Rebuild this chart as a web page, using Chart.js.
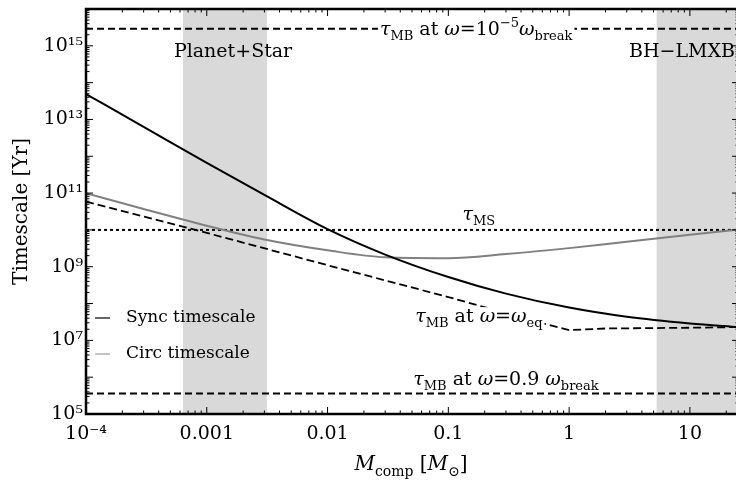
<!DOCTYPE html>
<html><head><meta charset="utf-8">
<script src="https://cdn.jsdelivr.net/npm/chart.js@4.4.1/dist/chart.umd.min.js"></script>
<style>
html,body{margin:0;padding:0;overflow:hidden;background:#fff;}
#wrap{width:740px;height:480px;}
canvas{display:block;}
</style></head><body>
<div id="wrap"><canvas id="c" width="740" height="480"></canvas></div>
<script>
// ---------- data ----------
const xLimits = [1e-4, 25.5];
const yLimits = [1e5, 1e16];

const massComp        = [1e-4, 3e-4, 1e-3, 3e-3, 0.01, 0.03, 0.1, 0.3, 1, 3, 10, 25.5];
const syncTimescale   = [4.9e13, 6.3e12, 6.6e11, 8.9e10, 1.05e10, 2.14e9, 5.25e8, 1.86e8, 7.76e7, 4.37e7, 2.88e7, 2.29e7];
const circTimescale   = [1.0e11, 3.7e10, 1.3e10, 5.5e9, 2.8e9, 1.8e9, 1.7e9, 2.2e9, 3.2e9, 4.8e9, 7.4e9, 1.02e10];

const mbEqMass        = [1e-4, 1e-3, 0.01, 0.1, 0.6, 1, 2, 10, 25.5];
const mbEqTimescale   = [5.9e10, 8.3e9, 1.1e9, 1.5e8, 2.9e7, 1.9e7, 2.1e7, 2.2e7, 2.3e7];

const mbSlowTimescale = 2.9e15;   // tau_MB at omega = 1e-5 omega_break
const msTimescale     = 1.0e10;   // tau_MS
const mbFastTimescale = 3.6e5;    // tau_MB at omega = 0.9 omega_break

const bandPlanetStar  = [6.35e-4, 3.15e-3];
const bandBHLMXB      = [5.3, 100];

const xTickValues = [1e-4, 1e-3, 1e-2, 1e-1, 1, 10];
const xTickLabels = ['10\u207B\u2074', '0.001', '0.01', '0.1', '1', '10'];
const yTickValues = [1e5, 1e7, 1e9, 1e11, 1e13, 1e15];
const yTickLabels = ['10\u2075', '10\u2077', '10\u2079', '10\u00B9\u00B9', '10\u00B9\u00B3', '10\u00B9\u2075'];

// ---------- helpers ----------
const FONT = '"DejaVu Serif", "Liberation Serif", serif';
const pts = (xs, ys) => xs.map((x, i) => ({x, y: ys[i]}));
const hline = v => [{x: xLimits[0], y: v}, {x: xLimits[1], y: v}];

function drawRich(ctx, segs, x, y, size, align, bg) {
  const small = Math.round(size * 0.68);
  let w = 0;
  const parts = segs.map(s => {
    const fs = (s.sub || s.sup) ? small : size;
    const font = (s.it ? 'italic ' : '') + fs + 'px ' + FONT;
    ctx.font = font;
    const wd = ctx.measureText(s.t).width;
    w += wd;
    return {t: s.t, font, wd, dy: s.sub ? size * 0.28 : (s.sup ? -size * 0.42 : 0)};
  });
  let x0 = align === 'center' ? x - w / 2 : (align === 'right' ? x - w : x);
  if (bg) { ctx.fillStyle = '#fff'; ctx.fillRect(x0 - 2, y - size * 0.78, w + 4, size * 1.15); }
  ctx.fillStyle = '#000'; ctx.textBaseline = 'alphabetic'; ctx.textAlign = 'left';
  parts.forEach(p => { ctx.font = p.font; ctx.fillText(p.t, x0, y + p.dy); x0 += p.wd; });
}

const annotations = [
  {segs: [{t:'\u03C4', it:1}, {t:'MB', sub:1}, {t:' at '}, {t:'\u03C9', it:1}, {t:'=10'}, {t:'\u22125', sup:1}, {t:'\u03C9', it:1}, {t:'break', sub:1}],
   x: 0.17, y: 2.0e15, align: 'center', bg: true},
  {segs: [{t:'\u03C4', it:1}, {t:'MS', sub:1}], x: 0.179, y: 1.86e10, align: 'center'},
  {segs: [{t:'\u03C4', it:1}, {t:'MB', sub:1}, {t:' at '}, {t:'\u03C9', it:1}, {t:'='}, {t:'\u03C9', it:1}, {t:'eq', sub:1}],
   x: 0.179, y: 3.16e7, align: 'center', bg: true},
  {segs: [{t:'\u03C4', it:1}, {t:'MB', sub:1}, {t:' at '}, {t:'\u03C9', it:1}, {t:'=0.9 '}, {t:'\u03C9', it:1}, {t:'break', sub:1}],
   x: 0.30, y: 6.1e5, align: 'center'},
  {segs: [{t:'Planet+Star'}], x: 1.65e-3, y: 5.0e14, align: 'center'},
  {segs: [{t:'BH\u2212LMXB'}], x: 23.6, y: 5.0e14, align: 'right'}
];

const decorPlugin = {
  id: 'decor',
  beforeDatasetsDraw(chart) {
    const {ctx, chartArea: a, scales: {x: xs}} = chart;
    ctx.save();
    ctx.fillStyle = '#d9d9d9';
    [bandPlanetStar, bandBHLMXB].forEach(b => {
      const p0 = Math.max(a.left, xs.getPixelForValue(b[0]));
      const p1 = Math.min(a.right, xs.getPixelForValue(b[1]));
      ctx.fillRect(p0, a.top, p1 - p0, a.bottom - a.top);
    });
    ctx.restore();
  },
  afterDatasetsDraw(chart) {
    const {ctx, chartArea: a, scales: {x: xs, y: ys}} = chart;
    ctx.save();
    annotations.forEach(an => {
      drawRich(ctx, an.segs, xs.getPixelForValue(an.x), ys.getPixelForValue(an.y), 19, an.align, an.bg);
    });
    // legend
    const legend = [{label: 'Sync timescale', color: '#000', w: 1.2, dy: 309},
                    {label: 'Circ timescale', color: '#c4c4c4', w: 2, dy: 345}];
    legend.forEach(l => {
      const yy = a.top + l.dy;
      ctx.strokeStyle = l.color; ctx.lineWidth = l.w;
      ctx.beginPath(); ctx.moveTo(a.left + 9, yy); ctx.lineTo(a.left + 24, yy); ctx.stroke();
      ctx.fillStyle = '#000'; ctx.font = '17px ' + FONT; ctx.textBaseline = 'middle'; ctx.textAlign = 'left';
      ctx.fillText(l.label, a.left + 40, yy);
    });
    ctx.restore();
  },
  afterDraw(chart) {
    const {ctx, chartArea: a, scales: {x: xs, y: ys}} = chart;
    ctx.save();
    ctx.strokeStyle = '#000'; ctx.lineWidth = 1;
    const seg = (x0, y0, x1, y1) => { ctx.beginPath(); ctx.moveTo(x0, y0); ctx.lineTo(x1, y1); ctx.stroke(); };
    for (let e = -4; e <= 1; e++) for (let m = 1; m <= 9; m++) {
      const v = m * Math.pow(10, e);
      if (v < xLimits[0] || v > xLimits[1]) continue;
      const px = xs.getPixelForValue(v), L = m === 1 ? 7 : 3.5;
      seg(px, a.bottom, px, a.bottom - L); seg(px, a.top, px, a.top + L);
    }
    for (let e = 5; e <= 15; e++) for (let m = 1; m <= 9; m++) {
      const v = m * Math.pow(10, e);
      const py = ys.getPixelForValue(v), L = m === 1 ? 7 : 3.5;
      seg(a.left, py, a.left + L, py); seg(a.right, py, a.right - L, py);
    }
    ctx.lineWidth = 2.5;
    ctx.strokeRect(a.left, a.top, a.right - a.left, a.bottom - a.top);
    // x axis title
    drawRich(ctx, [{t:'M', it:1}, {t:'comp', sub:1}, {t:' ['}, {t:'M', it:1}, {t:'\u2299', sub:1}, {t:']'}],
             (a.left + 736) / 2, 470, 20, 'center', false);
    ctx.restore();
  }
};

new Chart(document.getElementById('c'), {
  type: 'line',
  data: {
    datasets: [
      {label: 'Sync timescale', data: pts(massComp, syncTimescale), borderColor: '#000', borderWidth: 2, cubicInterpolationMode: 'monotone'},
      {label: 'Circ timescale', data: pts(massComp, circTimescale), borderColor: '#808080', borderWidth: 2, cubicInterpolationMode: 'monotone'},
      {label: 'tau_MB eq', data: pts(mbEqMass, mbEqTimescale), borderColor: '#000', borderWidth: 1.8, borderDash: [8, 4], tension: 0},
      {label: 'tau_MB slow', data: hline(mbSlowTimescale), borderColor: '#000', borderWidth: 2, borderDash: [7, 4]},
      {label: 'tau_MS', data: hline(msTimescale), borderColor: '#000', borderWidth: 2, borderDash: [3, 3]},
      {label: 'tau_MB fast', data: hline(mbFastTimescale), borderColor: '#000', borderWidth: 2, borderDash: [7, 4]}
    ]
  },
  options: {
    responsive: false,
    animation: false,
    elements: {point: {radius: 0}, line: {fill: false}},
    layout: {padding: {top: 9, right: 1, left: 0, bottom: 0}},
    plugins: {legend: {display: false}, tooltip: {enabled: false}},
    scales: {
      x: {
        type: 'logarithmic', min: xLimits[0], max: xLimits[1],
        grid: {display: false, drawTicks: false}, border: {display: false},
        afterBuildTicks: s => { s.ticks = xTickValues.map(v => ({value: v})); },
        afterFit: s => { s.height = 66; s.paddingLeft = 0; s.paddingRight = 0; },
        ticks: {autoSkip: false, maxRotation: 0, padding: 9, color: '#000',
                font: {family: FONT, size: 19},
                callback: (v, i) => xTickLabels[i]}
      },
      y: {
        type: 'logarithmic', min: yLimits[0], max: yLimits[1],
        grid: {display: false, drawTicks: false}, border: {display: false},
        afterBuildTicks: s => { s.ticks = yTickValues.map(v => ({value: v})); },
        afterFit: s => { s.width = 86; s.paddingTop = 0; s.paddingBottom = 0; },
        title: {display: true, text: 'Timescale [Yr]', color: '#000', font: {family: FONT, size: 20}, padding: {top: 10, bottom: 0}},
        ticks: {autoSkip: false, padding: 3, color: '#000',
                font: {family: FONT, size: 19},
                callback: (v, i) => yTickLabels[i]}
      }
    }
  },
  plugins: [decorPlugin]
});
</script>
</body></html>
